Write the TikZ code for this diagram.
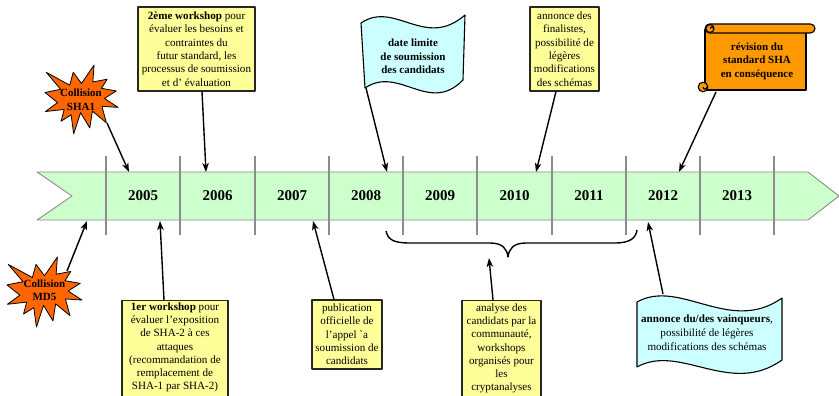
\documentclass[tikz,border=0pt]{standalone}
\usepackage{fontspec}
\setmainfont{Liberation Serif}
\usetikzlibrary{arrows.meta}
\definecolor{bandgreen}{HTML}{CCFFCC}
\definecolor{boxyellow}{HTML}{FFFF99}
\definecolor{flagcyan}{HTML}{CCFFFF}
\definecolor{burstorange}{HTML}{FF6600}
\definecolor{scrollorange}{HTML}{FF9900}
\definecolor{tickgray}{HTML}{8C8C8C}
\tikzset{
  note/.style={draw=black!85, line width=1.1pt, fill=boxyellow, inner sep=2pt, align=center,
    font=\fontsize{11.1}{13.3}\selectfont},
  notetext/.style={inner sep=0pt, align=center, font=\fontsize{11.1}{13.2}\selectfont},
  boldtext/.style={inner sep=0pt, align=center, font=\fontsize{11}{13.5}\selectfont\bfseries},
  plaintext/.style={inner sep=0pt, align=center, font=\fontsize{11.1}{13.8}\selectfont},
  year/.style={inner sep=0pt, font=\fontsize{15}{18}\selectfont\bfseries},
  tick/.style={draw=tickgray, line width=1.4pt},
  arr/.style={draw=black, line width=1.4pt, -{Stealth[length=9pt,width=6.5pt,inset=2.5pt]}},
  shapeline/.style={draw=black, line width=1.1pt},
  burstshape/.style={fill=burstorange, draw=black, line width=0.8pt},
  bracestyle/.style={draw=black, line width=1.4pt},
  pics/burst/.style={code={
    \filldraw[burstshape] (108,58) -- (83.52,22.95) -- (73.12,63.2) -- (3.7,22.95) -- (46.27,76.17)
      -- (0,86.15) -- (37.22,117.75) -- (1.35,145.87) -- (56.67,139.37) -- (47.62,176.17)
      -- (77.15,156.27) -- (84.85,216) -- (105.32,149.35) -- (132.47,197.37) -- (140.2,144.57)
      -- (181.45,180.95) -- (168.37,129.42) -- (216,132.9) -- (176.07,104.75) -- (210.97,81.37)
      -- (167.02,73.15) -- (183.8,44.57) -- (141.55,53.25) -- (145.22,0) -- cycle;
  }},
}
\begin{document}
\begin{tikzpicture}[x=1pt, y=-1pt, line join=round]
\useasboundingbox (0,0) rectangle (839,396);
\clip (0,0) rectangle (839,396);

% timeline band
\filldraw[fill=bandgreen, draw=tickgray, line width=0.9pt]
  (37,172) -- (808,172) -- (839,196) -- (808,220) -- (37,220) -- (72,196) -- cycle;
\foreach \x in {106,180,255,329,403,477,552,626,700,774}
  \draw[tick] (\x,156) -- (\x,235);
\foreach \yr/\x in {2005/143,2006/217.5,2007/292,2008/366,2009/440,2010/514.5,2011/589,2012/663,2013/737}
  \node[year] (y\yr) at (\x,196) {\yr};

% arrow targets on the band
\coordinate (tSHA) at (129,172);
\coordinate (tMD) at (87,221);
\coordinate (tWtwo) at (206,172);
\coordinate (tFlag) at (387,172);
\coordinate (tFin) at (536,172);
\coordinate (tScroll) at (679,172);
\coordinate (tWone) at (160,221);
\coordinate (tPub) at (313,221);
\coordinate (tWin) at (648,222);
\coordinate (tAna) at (489,258);

% brace
\draw[bracestyle] (386,231) .. controls (388,240) and (394,243) .. (410,243) -- (490,243)
  .. controls (503,243) and (507,249) .. (508,257)
  .. controls (509,249) and (513,243) .. (526,243) -- (615,243)
  .. controls (630,243) and (636,238) .. (637,230);

% bursts
\begin{scope}[shift={(45,65)}, x=0.338pt, y=-0.319pt]
  \pic {burst};
\end{scope}
\node[boldtext] (sha) at (81,99.5) {Collision\\SHA1};
\coordinate (shaout) at (107,123);

\begin{scope}[shift={(7,257)}, x=0.347pt, y=-0.324pt]
  \pic {burst};
\end{scope}
\node[boldtext] (md) at (44.5,290) {Collision\\MD5};
\coordinate (mdout) at (67,271);

% top yellow boxes
\node[note, minimum width=117pt, minimum height=84pt] (wtwo) at (196.5,49)
  {\textbf{2ème workshop} pour\\évaluer les besoins et\\contraintes du\\futur standard, les\\processus de soumission\\et d’ évaluation};
\node[note, minimum width=69pt, minimum height=84pt] (fin) at (564.5,49)
  {annonce des\\finalistes,\\possibilité de\\légères\\modifications\\des schémas};

% flag
\filldraw[fill=flagcyan, shapeline] (361,23) .. controls (395,0) and (425,50) .. (465,15)
  -- (463,80) .. controls (429,115) and (399,65) .. (365,88) -- cycle;
\node[boldtext] (flag) at (413,56.5) {date limite\\de soumission\\des candidats};
\coordinate (flagout) at (366,88);

% scroll
\filldraw[fill=scrollorange, shapeline] (705,30) rectangle (806,90);
\filldraw[fill=scrollorange, shapeline, rounded corners=4.5pt] (705,24) rectangle (815,33);
\filldraw[fill=scrollorange, shapeline] (710,28.5) circle (4);
\draw[shapeline] (710,28.5) arc[start angle=180, end angle=360, radius=1.8];
\filldraw[fill=scrollorange, shapeline] (703,87) circle (4.8);
\draw[shapeline] (703,87) arc[start angle=180, end angle=0, radius=2];
\node[boldtext] (scroll) at (757,61) {révision du\\standard SHA\\en conséquence};
\coordinate (scrollout) at (716,92);

% bottom boxes
\node[note, minimum width=106pt, minimum height=110pt, anchor=north] (wone) at (175,300) {};
\node[notetext] (wonetext) at (175,347.5)
  {\textbf{1er workshop} pour\\évaluer l’exposition\\de SHA-2 à ces\\attaques\\(recommandation de\\remplacement de\\SHA-1 par SHA-2)};
\node[note, minimum width=70pt, minimum height=69pt] (pub) at (347,334.5)
  {publication\\officielle de\\l’appel \textasciigrave a\\soumission de\\candidats};
\node[note, minimum width=79pt, minimum height=110pt, anchor=north] (ana) at (501.5,300) {};
\node[notetext] (anatext) at (501.5,348.5)
  {analyse des\\candidats par la\\communauté,\\workshops\\organisés pour\\les\\cryptanalyses};

% wave
\filldraw[fill=flagcyan, shapeline] (637,302) .. controls (680,278) and (730,335) .. (782,298)
  -- (782,360) .. controls (730,397) and (680,343) .. (637,367) -- cycle;
\node[plaintext] (win) at (707,333)
  {\textbf{annonce du/des vainqueurs},\\possibilité de légères\\modifications des schémas};
\coordinate (winout) at (663,294);

% connectors
\draw[arr] (shaout) -- (tSHA);
\draw[arr] (mdout) -- (tMD);
\draw[arr] ([xshift=5.5pt]wtwo.south) -- (tWtwo);
\draw[arr] (flagout) -- (tFlag);
\draw[arr] ([xshift=-8.5pt]fin.south) -- (tFin);
\draw[arr] (scrollout) -- (tScroll);
\draw[arr] ([xshift=-11pt]wone.north) -- (tWone);
\draw[arr] ([xshift=-13pt]pub.north) -- (tPub);
\draw[arr] ([xshift=-8.5pt]ana.north) -- (tAna);
\draw[arr] (winout) -- (tWin);
\end{tikzpicture}
\end{document}
